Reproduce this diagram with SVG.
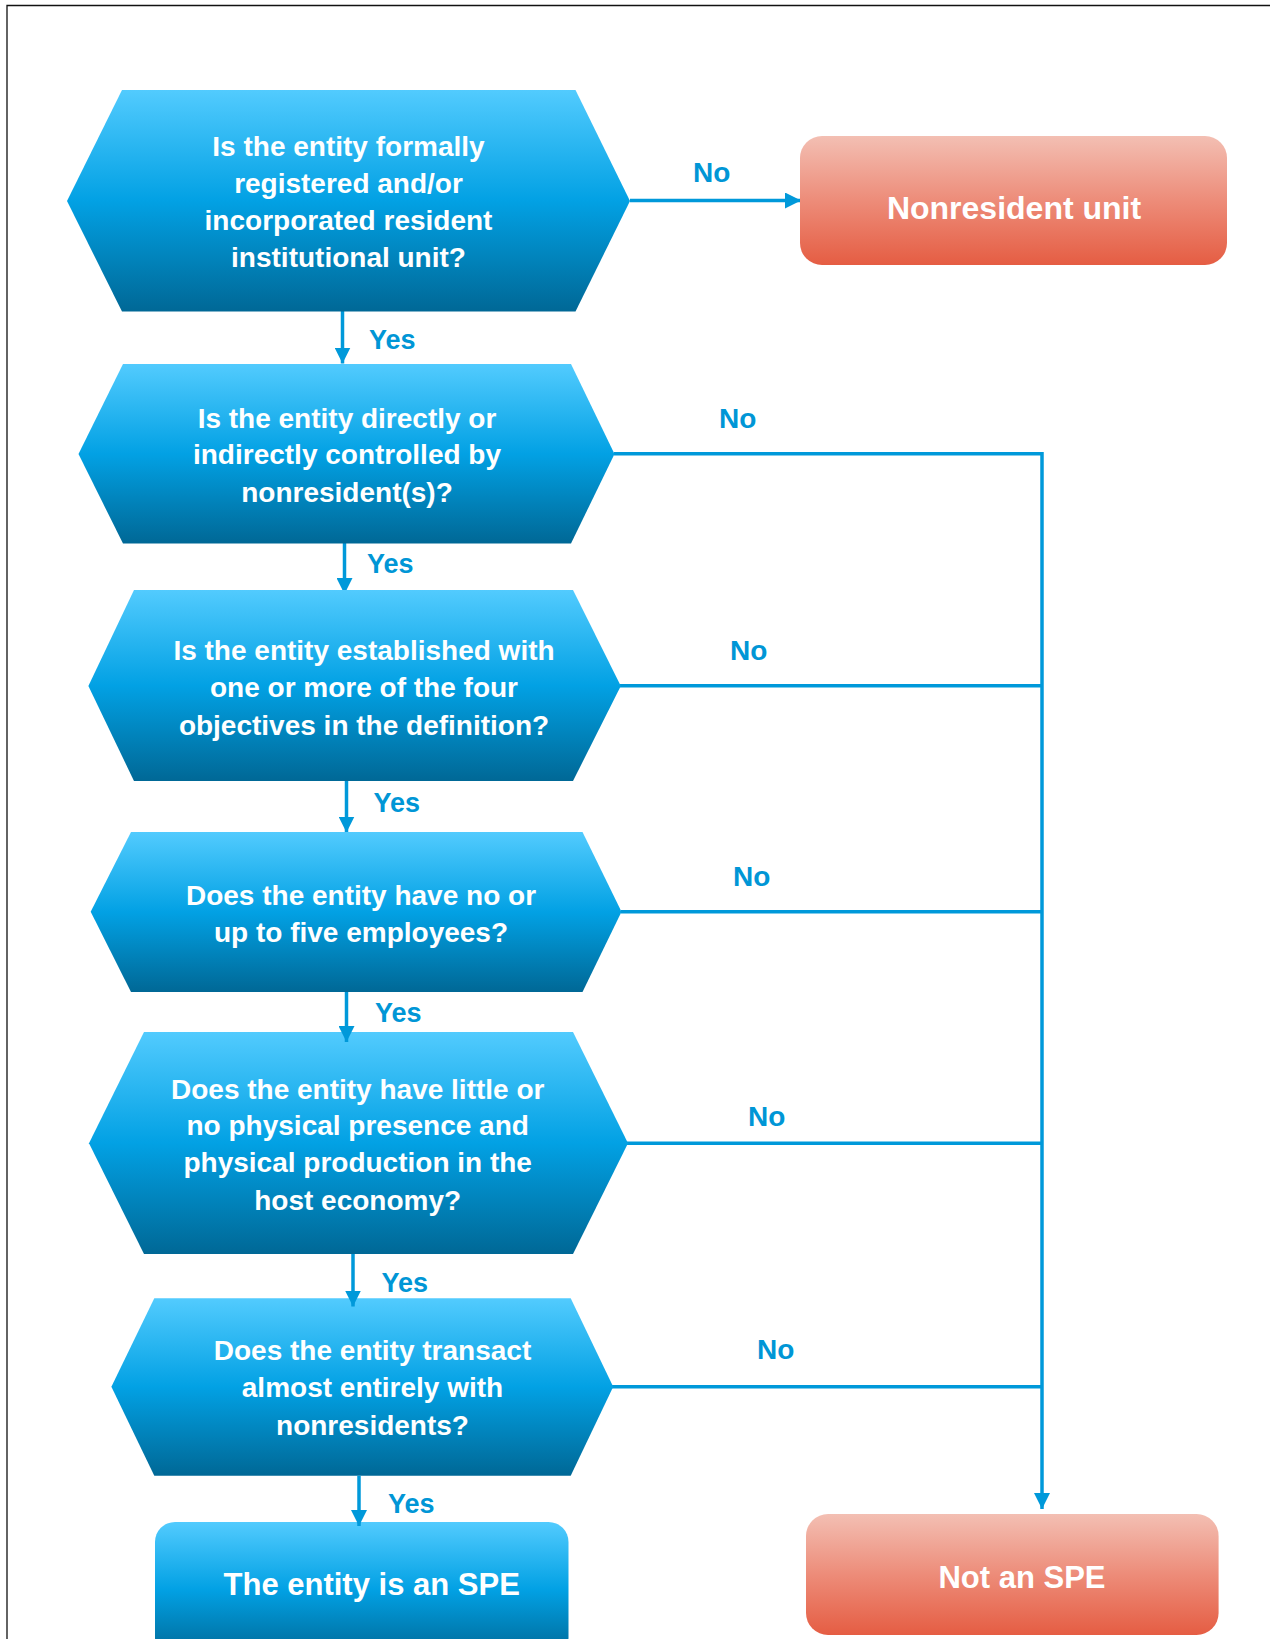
<svg xmlns="http://www.w3.org/2000/svg" width="1270" height="1639" viewBox="0 0 1270 1639">
<defs>
<linearGradient id="gBlue" x1="0" y1="0" x2="0" y2="1">
<stop offset="0" stop-color="#52CBFE"/>
<stop offset="0.5" stop-color="#02A1E4"/>
<stop offset="1" stop-color="#006896"/>
</linearGradient>
<linearGradient id="gRed" x1="0" y1="0" x2="0" y2="1">
<stop offset="0" stop-color="#F3BFB3"/>
<stop offset="0.5" stop-color="#ED8C79"/>
<stop offset="1" stop-color="#E55D43"/>
</linearGradient>
<marker id="arr" markerUnits="userSpaceOnUse" markerWidth="16" markerHeight="16" refX="16" refY="8" orient="auto">
<path d="M0,0 L16,8 L0,16 z" fill="#0099DA"/>
</marker>
</defs>
<style>
.hex{fill:url(#gBlue);}
.red{fill:url(#gRed);}
.t{font-family:"Liberation Sans",Arial,sans-serif;font-weight:bold;font-size:28px;fill:#FFFFFF;text-anchor:middle;}
.tb{font-family:"Liberation Sans",Arial,sans-serif;font-weight:bold;font-size:31px;fill:#FFFFFF;text-anchor:middle;}
.lbl{font-family:"Liberation Sans",Arial,sans-serif;font-weight:bold;font-size:27px;fill:#0096D6;}
.c{stroke:#0099DA;stroke-width:3.5;fill:none;}
.frame{stroke:#111111;stroke-width:1.3;fill:none;}
</style>
<rect x="0" y="0" width="1270" height="1639" fill="#FFFFFF"/>
<path class="frame" d="M7,1639 L7,5.5 L1270,5.5"/>

<g id="connectors">
<line class="c" x1="630" y1="200.5" x2="801" y2="200.5" marker-end="url(#arr)"/>
<line class="c" x1="342.5" y1="311" x2="342.5" y2="363.5" marker-end="url(#arr)"/>
<line class="c" x1="344.5" y1="543" x2="344.5" y2="594" marker-end="url(#arr)"/>
<line class="c" x1="346.5" y1="781" x2="346.5" y2="832.5" marker-end="url(#arr)"/>
<line class="c" x1="614" y1="453.7" x2="1042" y2="453.7"/>
<line class="c" x1="620" y1="685.7" x2="1042" y2="685.7"/>
<line class="c" x1="621" y1="911.7" x2="1042" y2="911.7"/>
<line class="c" x1="627" y1="1143.3" x2="1042" y2="1143.3"/>
<line class="c" x1="612" y1="1386.7" x2="1042" y2="1386.7"/>
<line class="c" x1="1042" y1="452" x2="1042" y2="1509" marker-end="url(#arr)"/>
</g>

<g id="n1">
<polygon class="hex" points="122,90 575.5,90 630,201 575.5,311.5 122,311.5 67,201"/>
<text class="t" x="348.5" y="156">Is the entity formally</text>
<text class="t" x="348.5" y="193">registered and/or</text>
<text class="t" x="348.5" y="230">incorporated resident</text>
<text class="t" x="348.5" y="267">institutional unit?</text>
</g>

<g id="n_nonres">
<rect class="red" x="800" y="136" width="427" height="129" rx="22" ry="22"/>
<text class="tb" x="1014" y="219" style="font-size:32px">Nonresident unit</text>
</g>

<g id="n2">
<polygon class="hex" points="123,364 571,364 614.5,454 571,543.5 123,543.5 78.5,454"/>
<text class="t" x="347" y="427.7">Is the entity directly or</text>
<text class="t" x="347" y="464.3">indirectly controlled by</text>
<text class="t" x="347" y="502.3">nonresident(s)?</text>
</g>

<g id="n3">
<polygon class="hex" points="134,590 573,590 620.8,686 573,781 134,781 88.4,686"/>
<text class="t" x="364" y="660">Is the entity established with</text>
<text class="t" x="364" y="697.3">one or more of the four</text>
<text class="t" x="364" y="735">objectives in the definition?</text>
</g>

<g id="n4">
<polygon class="hex" points="131,832 582.5,832 621.5,911.7 582.5,992 131,992 90.7,911.7"/>
<text class="t" x="361" y="905">Does the entity have no or</text>
<text class="t" x="361" y="941.7">up to five employees?</text>
</g>

<g id="n5">
<polygon class="hex" points="144,1032 573,1032 628,1143.3 573,1254 144,1254 89,1143.3"/>
<text class="t" x="357.7" y="1099">Does the entity have little or</text>
<text class="t" x="357.7" y="1135">no physical presence and</text>
<text class="t" x="357.7" y="1171.7">physical production in the</text>
<text class="t" x="357.7" y="1210">host economy?</text>
</g>

<g id="n6">
<polygon class="hex" points="154.3,1298.3 570.7,1298.3 613.2,1386.7 570.7,1475.7 154.3,1475.7 111.4,1386.7"/>
<text class="t" x="372.5" y="1360">Does the entity transact</text>
<text class="t" x="372.5" y="1396.7">almost entirely with</text>
<text class="t" x="372.5" y="1435">nonresidents?</text>
</g>

<g id="n_spe">
<rect class="hex" x="155" y="1522" width="413.5" height="135" rx="20" ry="20"/>
<text class="tb" x="371.7" y="1595">The entity is an SPE</text>
</g>

<g id="n_notspe">
<rect class="red" x="806" y="1514" width="412.6" height="121" rx="22" ry="22"/>
<text class="tb" x="1022" y="1588">Not an SPE</text>
</g>

<g id="connectors-over">
<line class="c" x1="346.5" y1="992" x2="346.5" y2="1042" marker-end="url(#arr)"/>
<line class="c" x1="353" y1="1254" x2="353" y2="1306.5" marker-end="url(#arr)"/>
<line class="c" x1="359" y1="1475.7" x2="359" y2="1526" marker-end="url(#arr)"/>
</g>

<g id="labels">
<text class="lbl" x="693" y="181.7" style="font-size:28px">No</text>
<text class="lbl" x="719" y="427.7" style="font-size:28px">No</text>
<text class="lbl" x="730" y="660" style="font-size:28px">No</text>
<text class="lbl" x="733" y="885.7" style="font-size:28px">No</text>
<text class="lbl" x="748" y="1125.7" style="font-size:28px">No</text>
<text class="lbl" x="757" y="1359" style="font-size:28px">No</text>
<text class="lbl" x="369" y="349">Yes</text>
<text class="lbl" x="367" y="572.7">Yes</text>
<text class="lbl" x="373.5" y="812.3">Yes</text>
<text class="lbl" x="375" y="1022.3">Yes</text>
<text class="lbl" x="381.5" y="1291.7">Yes</text>
<text class="lbl" x="388" y="1513.3">Yes</text>
</g>
</svg>
